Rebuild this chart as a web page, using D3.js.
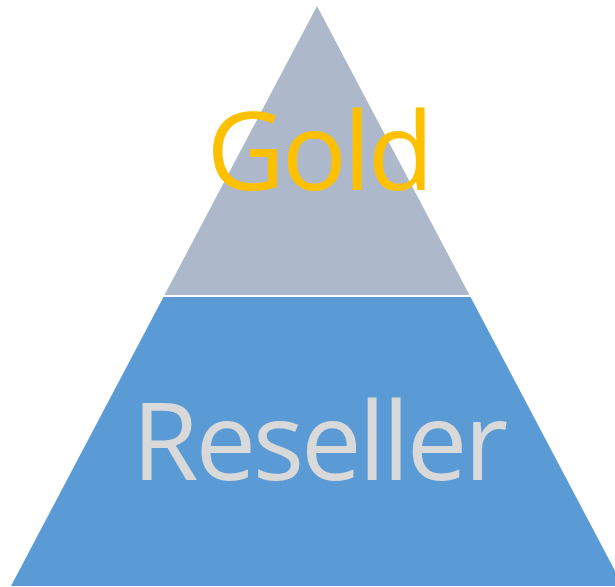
<!DOCTYPE html>
<html>
<head>
<meta charset="utf-8">
<script src="https://cdn.jsdelivr.net/npm/d3@7"></script>
<style>
  body { margin: 0; background: #fff; }
  svg { display: block; }
  .level-label { font-family: "Open Sans", "Noto Sans", sans-serif; letter-spacing: -3.2px; }
</style>
</head>
<body>
<div class="pyramid"></div>
<script>
var levels = ["Gold", "Reseller"];
var values = [1, 1];
var fills = ["#ADB9CA", "#5B9BD5"];
var labelColors = ["#FFC000", "#D9D9D9"];

var svgWidth = 615;
var svgHeight = 587;
var apexX = 317;
var gap = 2;
var fontSize = 108;

var svg = d3.select(".pyramid")
            .append("svg")
            .attr("width", svgWidth)
            .attr("height", svgHeight);

var total = d3.sum(values);
var cum = d3.cumsum(values);
var data = levels.map(function(d, i) {
  return { name: d, start: cum[i] - values[i], end: cum[i], i: i };
});

// vertical position of a cumulative value
var y = d3.scaleLinear().domain([0, total]).range([6, 586]);
// half width of the pyramid at a cumulative value
var halfW = d3.scaleLinear().domain([0, total]).range([0, 306]);

function shape(d) {
  var y0 = y(d.start) + (d.i > 0 ? gap / 2 : 0);
  var y1 = y(d.end) - (d.i < data.length - 1 ? gap / 2 : 0);
  var w0 = halfW(y.invert(y0));
  var w1 = halfW(y.invert(y1));
  return [
    [apexX - w0, y0], [apexX + w0, y0],
    [apexX + w1, y1], [apexX - w1, y1]
  ].join(" ");
}

svg.selectAll("polygon")
    .data(data)
    .enter()
    .append("polygon")
    .attr("points", shape)
    .attr("fill", function(d) { return fills[d.i]; });

svg.selectAll("text")
    .data(data)
    .enter()
    .append("text")
    .attr("class", "level-label")
    .text(function(d) { return d.name; })
    .attr("x", apexX + 1.5)
    .attr("y", function(d) {
      return (y(d.start) + y(d.end)) / 2 + fontSize * 0.36;
    })
    .attr("text-anchor", "middle")
    .attr("font-size", fontSize)
    .attr("fill", function(d) { return labelColors[d.i]; });
</script>
</body>
</html>
